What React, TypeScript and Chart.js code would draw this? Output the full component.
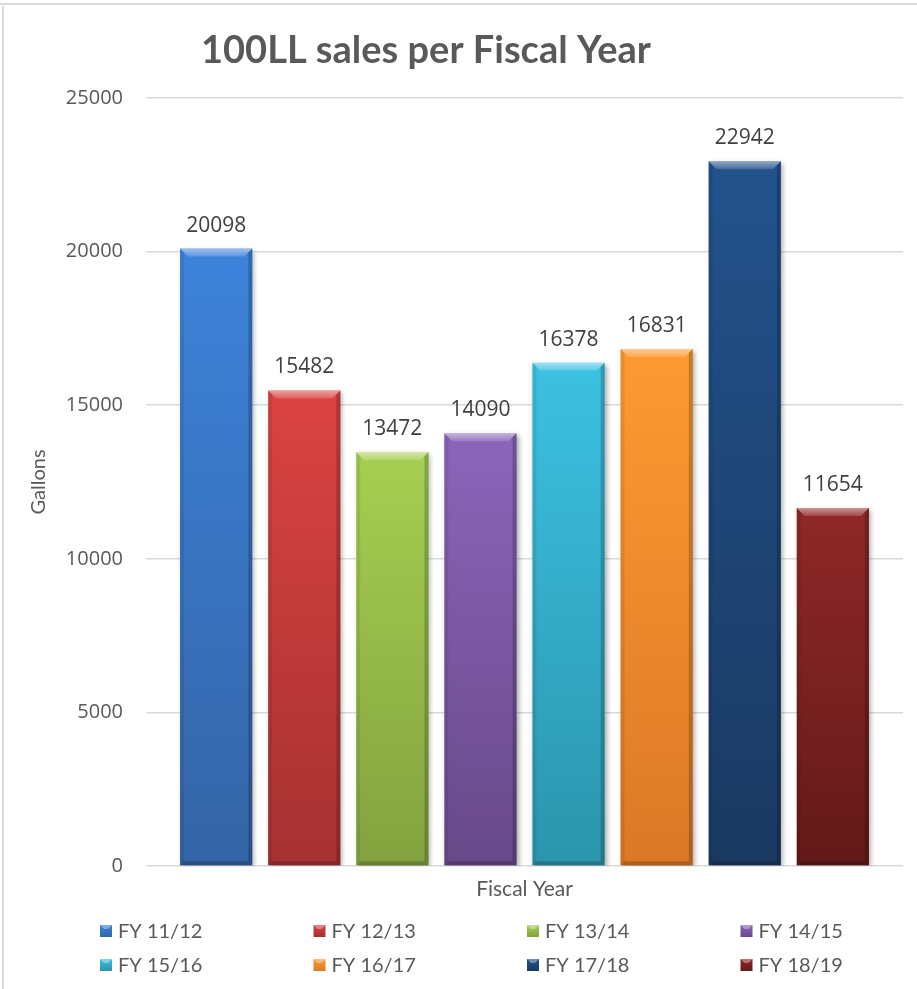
import React, { useEffect, useRef } from "react";
import { Chart, registerables } from "chart.js";

Chart.register(...registerables);

// ---- data ----
const categories = ["Fiscal Year"];
const seriesLabels = ["FY 11/12", "FY 12/13", "FY 13/14", "FY 14/15", "FY 15/16", "FY 16/17", "FY 17/18", "FY 18/19"];
const gallons = [20098, 15482, 13472, 14090, 16378, 16831, 22942, 11654];
const yMin = 0;
const yMax = 25000;
const yStep = 5000;
const chartTitle = "100LL sales per Fiscal Year";
const yTitle = "Gallons";
const xTitle = "Fiscal Year";

// ---- styles ----
const topColors = ["#3d83da", "#dc4343", "#a5cf51", "#8b65ba", "#3cc1e2", "#fe9a31", "#23528c", "#902828"];
const bottomColors = ["#3464a6", "#a63131", "#83a23f", "#684989", "#2b95ac", "#db7826", "#1a3961", "#631919"];
const CALIBRI = "Lato, 'Noto Sans', sans-serif";
const NUMFONT = "'Open Sans', 'Noto Sans', sans-serif";

const shadowPlugin = {
  id: "barShadow",
  beforeDatasetDraw(chart: any) {
    const ctx = chart.ctx;
    ctx.save();
    ctx.shadowColor = "rgba(0,0,0,0.35)";
    ctx.shadowBlur = 5;
    ctx.shadowOffsetX = 2;
    ctx.shadowOffsetY = 2;
  },
  afterDatasetDraw(chart: any) {
    chart.ctx.restore();
  },
};

const bevelPlugin = {
  id: "bevel",
  afterDatasetsDraw(chart: any) {
    const ctx = chart.ctx;
    chart.data.datasets.forEach((ds: any, di: number) => {
      const meta = chart.getDatasetMeta(di);
      meta.data.forEach((el: any) => {
        const { x, y, base, width } = el.getProps(["x", "y", "base", "width"], true);
        const l = x - width / 2;
        const r = x + width / 2;
        const t = Math.min(y, base);
        const b = Math.max(y, base);
        const bv = 8;
        ctx.save();
        const g = ctx.createLinearGradient(0, t, 0, t + bv);
        g.addColorStop(0, "rgba(255,255,255,0.5)");
        g.addColorStop(1, "rgba(255,255,255,0.15)");
        ctx.fillStyle = g;
        ctx.beginPath();
        ctx.moveTo(l, t);
        ctx.lineTo(r, t);
        ctx.lineTo(r - bv, t + bv);
        ctx.lineTo(l + bv, t + bv);
        ctx.closePath();
        ctx.fill();
        ctx.fillStyle = "rgba(0,0,0,0.2)";
        ctx.beginPath();
        ctx.moveTo(r, t);
        ctx.lineTo(r, b);
        ctx.lineTo(r - 4, b - 4);
        ctx.lineTo(r - 4, t + 4);
        ctx.closePath();
        ctx.fill();
        ctx.fillStyle = "rgba(0,0,0,0.08)";
        ctx.beginPath();
        ctx.moveTo(l, t);
        ctx.lineTo(l, b);
        ctx.lineTo(l + 4, b - 4);
        ctx.lineTo(l + 4, t + 4);
        ctx.closePath();
        ctx.fill();
        ctx.fillStyle = "rgba(0,0,0,0.2)";
        ctx.beginPath();
        ctx.moveTo(l, b);
        ctx.lineTo(r, b);
        ctx.lineTo(r - 4, b - 4);
        ctx.lineTo(l + 4, b - 4);
        ctx.closePath();
        ctx.fill();
        ctx.restore();
      });
    });
  },
};

const valueLabelPlugin = {
  id: "valueLabels",
  afterDatasetsDraw(chart: any) {
    const ctx = chart.ctx;
    ctx.save();
    ctx.font = `21px ${NUMFONT}`;
    ctx.fillStyle = "#404040";
    ctx.textAlign = "center";
    ctx.textBaseline = "middle";
    chart.data.datasets.forEach((ds: any, di: number) => {
      const meta = chart.getDatasetMeta(di);
      meta.data.forEach((el: any, i: number) => {
        const { x, y } = el.getProps(["x", "y"], true);
        ctx.fillText(String(ds.data[i]), x, y - 23);
      });
    });
    ctx.restore();
  },
};

const decorPlugin = {
  id: "decor",
  afterDraw(chart: any) {
    const ctx = chart.ctx;
    const W = chart.width;
    const H = chart.height;
    ctx.save();
    ctx.strokeStyle = "#d9d9d9";
    ctx.lineWidth = 2;
    ctx.beginPath();
    ctx.moveTo(0, 4);
    ctx.lineTo(W, 4);
    ctx.moveTo(3, 6);
    ctx.lineTo(3, H);
    ctx.stroke();
    ctx.fillStyle = "#595959";
    ctx.font = `bold 38px ${CALIBRI}`;
    ctx.textAlign = "center";
    ctx.textBaseline = "alphabetic";
    ctx.fillText(chartTitle, 426, 63);
    const left = 100;
    const colW = 213.5;
    const rowY = [931, 965];
    ctx.font = `20px ${CALIBRI}`;
    ctx.textAlign = "left";
    ctx.textBaseline = "middle";
    chart.data.datasets.forEach((ds: any, di: number) => {
      const col = di % 4;
      const row = Math.floor(di / 4);
      const mx = left + col * colW;
      const my = rowY[row];
      const g = ctx.createLinearGradient(0, my - 6, 0, my + 6);
      g.addColorStop(0, topColors[di]);
      g.addColorStop(1, bottomColors[di]);
      ctx.fillStyle = g;
      ctx.fillRect(mx, my - 6, 12, 12);
      ctx.fillStyle = "rgba(255,255,255,0.35)";
      ctx.beginPath();
      ctx.moveTo(mx, my - 6);
      ctx.lineTo(mx + 12, my - 6);
      ctx.lineTo(mx + 8, my - 2);
      ctx.lineTo(mx + 4, my - 2);
      ctx.closePath();
      ctx.fill();
      ctx.fillStyle = "#595959";
      ctx.fillText(ds.label, mx + 18, my + 1);
    });
    ctx.restore();
  },
};

export default function App() {
  const canvasRef = useRef<HTMLCanvasElement | null>(null);

  useEffect(() => {
    if (!canvasRef.current) return;
    const datasets = seriesLabels.map((label, i) => ({
      label,
      data: [gallons[i]],
      backgroundColor: (c: any) => {
        const chart = c.chart;
        const ys = chart.scales?.y;
        if (!ys || c.raw === undefined) return topColors[i];
        const top = ys.getPixelForValue(c.raw);
        const bot = ys.getPixelForValue(0);
        if (!isFinite(top) || !isFinite(bot) || top === bot) return topColors[i];
        const g = chart.ctx.createLinearGradient(0, top, 0, bot);
        g.addColorStop(0, topColors[i]);
        g.addColorStop(1, bottomColors[i]);
        return g;
      },
      borderWidth: 0,
      categoryPercentage: 0.931,
      barPercentage: 0.82,
    }));

    const chart = new Chart(canvasRef.current, {
      type: "bar",
      data: { labels: categories, datasets },
      options: {
        animation: false,
        responsive: false,
        devicePixelRatio: 1,
        layout: { padding: { top: 98, right: 14, bottom: 87, left: 0 } },
        plugins: {
          legend: { display: false },
          title: { display: false },
          tooltip: { enabled: false },
        },
        scales: {
          x: {
            grid: { display: false },
            border: { display: false },
            ticks: { display: false },
            title: {
              display: true,
              text: xTitle,
              color: "#595959",
              font: { family: CALIBRI, size: 21 },
              padding: 0,
            },
            afterFit: (s: any) => {
              s.height = 36;
            },
          },
          y: {
            min: yMin,
            max: yMax,
            ticks: {
              stepSize: yStep,
              padding: 23,
              color: "#595959",
              font: { family: NUMFONT, size: 20 },
              callback: (v: any) => String(v),
            },
            grid: { color: "#d9d9d9", lineWidth: 1.5, drawTicks: false },
            border: { display: false },
            title: {
              display: true,
              text: yTitle,
              color: "#595959",
              font: { family: CALIBRI, size: 20 },
              padding: { top: 27, bottom: 0 },
            },
            afterFit: (s: any) => {
              s.width = 146;
            },
          },
        },
      },
      plugins: [shadowPlugin, bevelPlugin, valueLabelPlugin, decorPlugin],
    } as any);

    return () => chart.destroy();
  }, []);

  return (
    <div style={{ position: "absolute", left: 0, top: 0, width: 917, height: 989, background: "#ffffff" }}>
      <canvas ref={canvasRef} width={917} height={989} style={{ display: "block" }} />
    </div>
  );
}
